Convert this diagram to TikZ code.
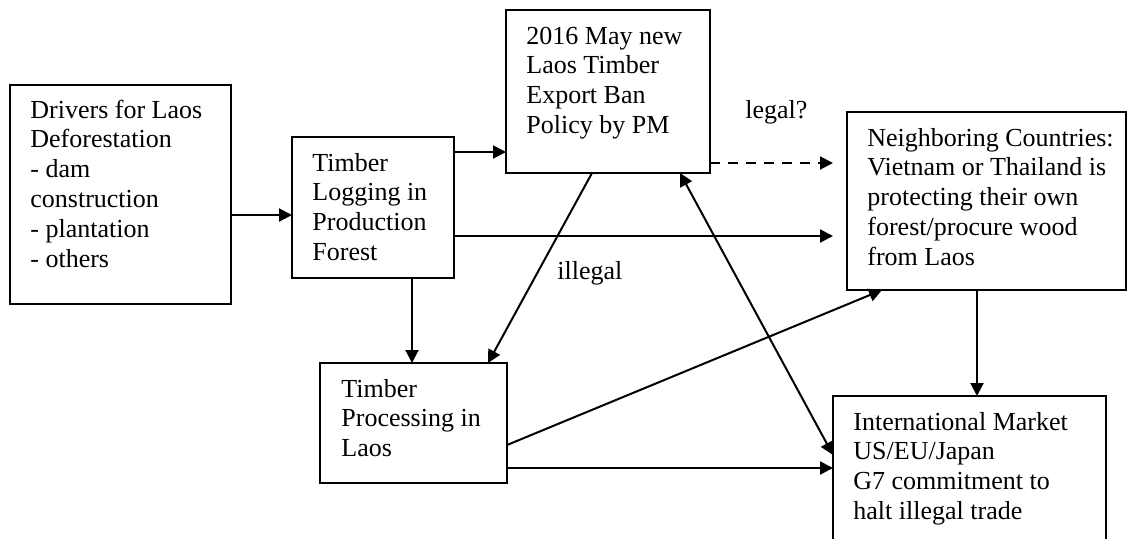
\documentclass[tikz,border=0pt]{standalone}
\usepackage{fontspec}
\setmainfont{Liberation Serif}
\usetikzlibrary{arrows.meta}
\tikzset{
  box/.style={draw, line width=0.8pt, anchor=north west, inner sep=0pt, outer sep=0pt},
  txt/.style={anchor=base west, inner sep=0pt, font=\fontsize{13}{14.9}\selectfont},
  arr/.style={line width=1pt, -{Triangle[length=6.5pt,width=6.5pt]}},
  darr/.style={line width=1pt, {Triangle[length=6.5pt,width=6.5pt]}-{Triangle[length=6.5pt,width=6.5pt]}},
  dasharr/.style={arr, dash pattern=on 5pt off 4pt}
}
\newcommand{\lines}[1]{\begin{tabular}[t]{@{}l@{}}#1\end{tabular}}
\begin{document}
\begin{tikzpicture}[x=0.5pt, y=-0.5pt]
\useasboundingbox (0,0) rectangle (1129,538);
\fill[white] (0,0) rectangle (1129,538);
\clip (0,0) rectangle (1129,538);

% boxes
\node[box, minimum width=110.5pt, minimum height=109.5pt] (drv) at (10,85) {};
\node[box, minimum width=81pt, minimum height=70.5pt] (log) at (292,137) {};
\node[box, minimum width=102pt, minimum height=81.5pt] (pol) at (506,10) {};
\node[box, minimum width=139.5pt, minimum height=89pt] (nb) at (847,112) {};
\node[box, minimum width=93.5pt, minimum height=60pt] (proc) at (320,363) {};
\node[box, minimum width=136.5pt, minimum height=85pt] (intl) at (833,396) {};

% texts
\node[txt] (tdrv) at (30,118) {\lines{Drivers for Laos\\Deforestation\\- dam\\construction\\- plantation\\- others}};
\node[txt] (tlog) at (312,171) {\lines{Timber\\Logging in\\Production\\Forest}};
\node[txt] (tpol) at (526,44) {\lines{2016 May new\\Laos Timber\\Export Ban\\Policy by PM}};
\node[txt] (tnb) at (867,146) {\lines{Neighboring Countries:\\Vietnam or Thailand is\\protecting their own\\forest/procure wood\\from Laos}};
\node[txt] (tproc) at (341,397) {\lines{Timber\\Processing in\\Laos}};
\node[txt] (tintl) at (853,430) {\lines{International Market\\US/EU/Japan\\G7 commitment to\\halt illegal trade}};

% labels
\node[txt] (llegal) at (745,118) {legal?};
\node[txt] (lillegal) at (557,279) {illegal};

% connectors
\draw[arr] (drv.east |- 0,215) -- (log.west |- 0,215);
\draw[arr] (log.east |- 0,152) -- (pol.west |- 0,152);
\draw[arr, shorten >=7pt] (log.east |- 0,236) -- (nb.west |- 0,236);
\draw[dasharr, shorten >=7pt] (pol.east |- 0,163) -- (nb.west |- 0,163);
\draw[arr] (log.south -| 412,0) -- (proc.north -| 412,0);
\draw[arr] (pol.south -| 592,0) -- (proc.north -| 488,0);
\draw[darr] (pol.south -| 680,0) -- (intl.west |- 0,455);
\draw[arr] (proc.east |- 0,445) -- (nb.south -| 882,0);
\draw[arr] (proc.east |- 0,468) -- (intl.west |- 0,468);
\draw[arr] (nb.south -| 977,0) -- (intl.north -| 977,0);
\end{tikzpicture}
\end{document}
